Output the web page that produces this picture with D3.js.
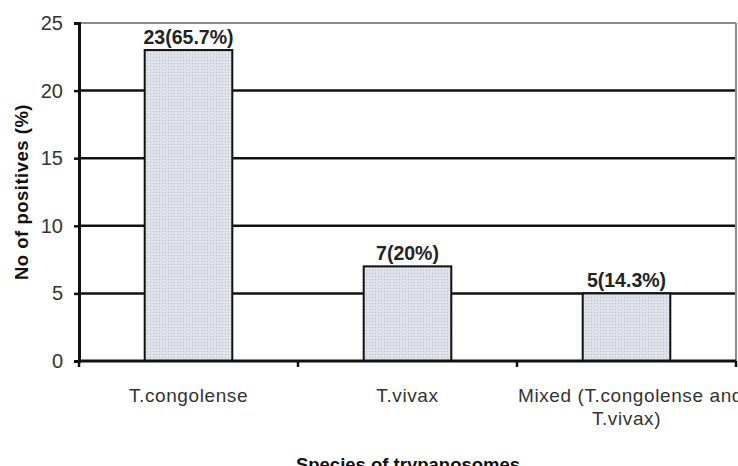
<!DOCTYPE html>
<html lang="en">
<head>
  <meta charset="UTF-8">
  <title>Species of trypanosomes</title>
  <style>
    body {
      margin: 0;
      background-color: white;
      font-family: "Liberation Sans", Arial, sans-serif;
    }
    .tick text {
      font-size: 20px;
      fill: #333;
    }
    .value {
      font-size: 19.5px;
      font-weight: bold;
      text-anchor: middle;
      fill: #222;
    }
    .axis-title {
      font-size: 18.5px;
      font-weight: bold;
      fill: #111;
      text-anchor: middle;
    }
  </style>
</head>
<body>
  <svg id="chart" width="738" height="466"></svg>

  <script src="https://d3js.org/d3.v7.min.js"></script>
  <script>
    var categories = ["T.congolense", "T.vivax", "Mixed (T.congolense and|T.vivax)"];
    var counts = [23, 7, 5];
    var valueLabels = ["23(65.7%)", "7(20%)", "5(14.3%)"];
    var yTicks = [0, 5, 10, 15, 20, 25];

    var svg = d3.select("#chart");
    var mLeft = 79, mRight = 736, mTop = 23, mBottom = 361;

    var x = d3.scaleBand()
      .domain(categories)
      .range([mLeft, mRight])
      .paddingInner(0.6)
      .paddingOuter(0.3);

    var y = d3.scaleLinear()
      .domain([0, 25])
      .range([mBottom, mTop]);

    // dotted fill like the original
    var defs = svg.append("defs");
    var pat = defs.append("pattern")
      .attr("id", "dots")
      .attr("width", 3)
      .attr("height", 3)
      .attr("patternUnits", "userSpaceOnUse");
    pat.append("rect").attr("width", 3).attr("height", 3).attr("fill", "#dfe2ea");
    pat.append("rect").attr("width", 1).attr("height", 1).attr("fill", "#b9bdca");

    // gridlines
    svg.selectAll(".grid")
      .data(yTicks.filter(function(d) { return d > 0 && d < 25; }))
      .enter().append("line")
      .attr("class", "grid")
      .attr("x1", mLeft)
      .attr("x2", mRight)
      .attr("y1", function(d) { return y(d); })
      .attr("y2", function(d) { return y(d); })
      .attr("stroke", "#111")
      .attr("stroke-width", 2.5);

    // top + right frame (grey)
    svg.append("line")
      .attr("x1", mLeft).attr("x2", mRight)
      .attr("y1", y(25)).attr("y2", y(25))
      .attr("stroke", "#8a8a8a").attr("stroke-width", 2);
    svg.append("line")
      .attr("x1", mRight).attr("x2", mRight)
      .attr("y1", y(25)).attr("y2", y(0))
      .attr("stroke", "#8a8a8a").attr("stroke-width", 2);

    // bars
    svg.selectAll(".bar")
      .data(counts)
      .enter().append("rect")
      .attr("class", "bar")
      .attr("x", function(d, i) { return x(categories[i]); })
      .attr("y", function(d) { return y(d); })
      .attr("width", x.bandwidth())
      .attr("height", function(d) { return y(0) - y(d); })
      .attr("fill", "url(#dots)")
      .attr("stroke", "#111")
      .attr("stroke-width", 2);

    svg.selectAll(".value")
      .data(counts)
      .enter().append("text")
      .attr("class", "value")
      .attr("x", function(d, i) { return x(categories[i]) + x.bandwidth() / 2; })
      .attr("y", function(d) { return y(d) - 6; })
      .text(function(d, i) { return valueLabels[i]; });

    // y axis
    var yAxis = svg.append("g")
      .attr("transform", "translate(" + mLeft + ",0)")
      .call(d3.axisLeft(y).tickValues(yTicks).tickSize(5).tickPadding(11));
    yAxis.select(".domain").attr("stroke", "#111").attr("stroke-width", 3);
    yAxis.selectAll(".tick line").attr("stroke", "#111").attr("stroke-width", 2.5);
    yAxis.attr("font-family", null).attr("font-size", null);

    // x axis: ticks sit at the category boundaries
    var boundaries = d3.range(categories.length + 1).map(function(i) {
      return mLeft + i * (mRight - mLeft) / categories.length;
    });
    svg.append("line")
      .attr("x1", mLeft).attr("x2", mRight)
      .attr("y1", y(0)).attr("y2", y(0))
      .attr("stroke", "#111").attr("stroke-width", 3);
    svg.selectAll(".xtick")
      .data(boundaries)
      .enter().append("line")
      .attr("class", "xtick")
      .attr("x1", function(d) { return d; })
      .attr("x2", function(d) { return d; })
      .attr("y1", y(0))
      .attr("y2", y(0) + 6)
      .attr("stroke", "#111")
      .attr("stroke-width", 2.5);

    var xl = svg.selectAll(".xlabel")
      .data(categories)
      .enter().append("text")
      .attr("class", "xlabel")
      .attr("text-anchor", "middle")
      .attr("font-size", 19)
      .attr("letter-spacing", 0.6)
      .attr("fill", "#333")
      .attr("y", 402);
    xl.each(function(d) {
      var parts = d.split("|");
      var t = d3.select(this);
      parts.forEach(function(p, i) {
        t.append("tspan")
          .attr("x", x(d) + x.bandwidth() / 2 + (parts.length > 1 && i === 0 ? 4 : 0))
          .attr("dy", i === 0 ? 0 : 23)
          .text(p);
      });
    });

    svg.append("text")
      .attr("class", "axis-title")
      .attr("x", 408)
      .attr("y", 471)
      .text("Species of trypanosomes");

    svg.append("text")
      .attr("class", "axis-title")
      .attr("letter-spacing", 0.5)
      .attr("transform", "translate(28," + (mTop + mBottom) / 2 + ") rotate(-90)")
      .text("No of positives (%)");
  </script>
</body>
</html>
